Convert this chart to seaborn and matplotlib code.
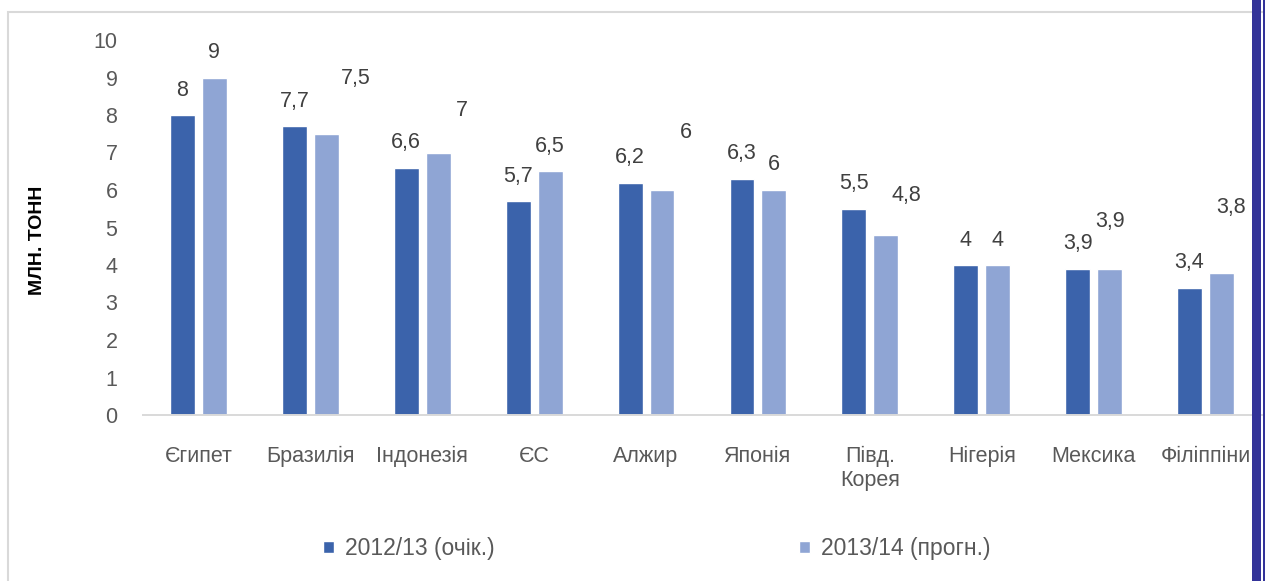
import pandas as pd
import matplotlib
matplotlib.use('agg')
import matplotlib.pyplot as plt
from matplotlib.patches import Rectangle
import seaborn as sns

countries = ['Єгипет', 'Бразилія', 'Індонезія', 'ЄС', 'Алжир', 'Японія',
             'Півд.\nКорея', 'Нігерія', 'Мексика', 'Філіппіни']
season_1 = '2012/13 (очік.)'
season_2 = '2013/14 (прогн.)'
values_1 = [8, 7.7, 6.6, 5.7, 6.2, 6.3, 5.5, 4, 3.9, 3.4]
values_2 = [9, 7.5, 7, 6.5, 6, 6, 4.8, 4, 3.9, 3.8]

# excel put some of the light labels off to the side; offsets in pixels (dx, dy)
offsets_2 = [(0, 25), (29, 55), (24, 42), (0, 25), (24, 58),
             (0, 25), (21, 40), (0, 25), (0, 47), (10, 65)]

df = pd.DataFrame({
    'країна': countries * 2,
    'значення': values_1 + values_2,
    'сезон': [season_1] * len(countries) + [season_2] * len(countries),
})

sns.set_style('white')
plt.rcParams['font.family'] = ['Liberation Sans', 'DejaVu Sans']

W, H = 1265, 581
fig = plt.figure(figsize=(W / 100, H / 100), dpi=100)
ax = fig.add_axes([142.5 / W, 1 - 415 / H, 1119 / W, 375 / H])

sns.barplot(data=df, x='країна', y='значення', hue='сезон',
            palette=['#3b63ab', '#8fa5d4'], width=0.571, gap=0.22,
            saturation=1, ax=ax)

ax.set_ylim(0, 10)
ax.set_yticks(range(0, 11))
ax.set_xlim(-0.5, len(countries) - 0.5)
sns.despine(ax=ax, left=True)
ax.spines['bottom'].set_color('#d9d9d9')
ax.spines['bottom'].set_linewidth(1.4)
ax.tick_params(axis='both', length=0, labelsize=15.5, labelcolor='#595959')
ax.tick_params(axis='y', pad=18)
ax.tick_params(axis='x', pad=22)
ax.set_xlabel('')
ax.set_ylabel('МЛН. ТОНН', fontsize=14, fontweight='bold', color='black')
ax.yaxis.set_label_coords((38 - 142.5) / 1119, (415 - 240) / 375)
ax.yaxis.label.set_va('center')

for bar, v in zip(ax.containers[0], values_1):
    ax.annotate(f'{v:g}'.replace('.', ','),
                xy=(bar.get_x() + bar.get_width() / 2, bar.get_height()),
                xytext=(0, 25 * 0.72), textcoords='offset points',
                ha='center', va='center', fontsize=15.5, color='#404040')
for bar, v, (dx, dy) in zip(ax.containers[1], values_2, offsets_2):
    ax.annotate(f'{v:g}'.replace('.', ','),
                xy=(bar.get_x() + bar.get_width() / 2, bar.get_height()),
                xytext=(dx * 0.72, dy * 0.72), textcoords='offset points',
                ha='center', va='center', fontsize=15.5, color='#404040')

handles, labels = ax.get_legend_handles_labels()
ax.legend(handles, labels, loc='center', bbox_to_anchor=(657 / W, 1 - 549 / H),
          bbox_transform=fig.transFigure, ncol=2, frameon=False, fontsize=16.5,
          labelcolor='#595959', handlelength=0.45, handleheight=0.45,
          handletextpad=0.5, columnspacing=13.3)

# chart area frame and the dark band on the right side
fig.add_artist(Rectangle((8 / W, -0.1), 1.2, 1 - 11.5 / H + 0.1, transform=fig.transFigure,
                         fill=False, edgecolor='#d9d9d9', linewidth=1.5))
fig.add_artist(Rectangle((1252 / W, 0), 9 / W, 1, transform=fig.transFigure,
                         facecolor='#333399', edgecolor='none', zorder=5))
fig.add_artist(Rectangle((1263 / W, 0), 2 / W, 1, transform=fig.transFigure,
                         facecolor='#333399', edgecolor='none', zorder=5))

fig.savefig('out.png', dpi=100)
plt.close(fig)
